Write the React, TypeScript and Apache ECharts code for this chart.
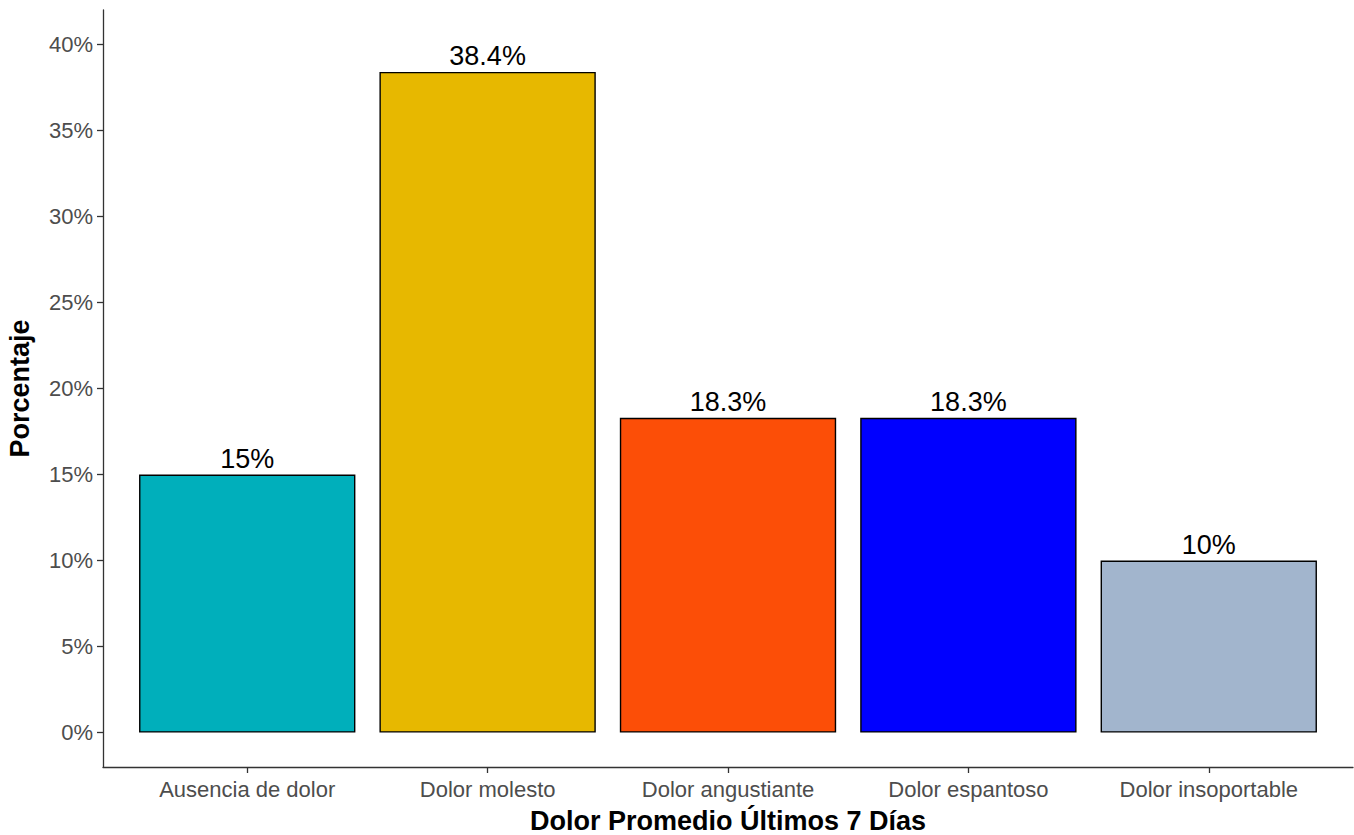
import React, { useEffect, useRef } from "react";
import * as echarts from "echarts";

const categories = ["Ausencia de dolor", "Dolor molesto", "Dolor angustiante", "Dolor espantoso", "Dolor insoportable"];
const values = [15, 38.4, 18.3, 18.3, 10];
const valueLabels = ["15%", "38.4%", "18.3%", "18.3%", "10%"];
const colors = ["#00AFBB", "#E7B800", "#FC4E07", "#0000FF", "#A2B5CD"];
const yTicks = [0, 5, 10, 15, 20, 25, 30, 35, 40];
const xPositions = [1, 2, 3, 4, 5];

export default function App() {
  const ref = useRef<HTMLDivElement>(null);
  useEffect(() => {
    document.body.style.margin = "0";
    const chart = echarts.init(ref.current!, null, { renderer: "svg" });
    const font = "Liberation Sans, Arial, sans-serif";
    chart.setOption({
      animation: false,
      backgroundColor: "#ffffff",
      grid: { left: 103, right: 1, top: 10, bottom: 68, containLabel: false, outerBoundsMode: "none" },
      xAxis: {
        type: "value",
        min: 0.4,
        max: 5.6,
        name: "Dolor Promedio Últimos 7 Días",
        nameLocation: "middle",
        nameGap: 40,
        nameTextStyle: { fontFamily: font, fontSize: 27, fontWeight: "bold", color: "#000" },
        axisLine: { show: true, onZero: false, lineStyle: { color: "#333", width: 1.3 } },
        axisTick: { show: true, length: 6, customValues: xPositions, lineStyle: { color: "#333", width: 1.3 } },
        axisLabel: {
          customValues: xPositions,
          formatter: (v: number) => categories[Math.round(v) - 1] ?? "",
          fontFamily: font,
          fontSize: 22,
          color: "#4D4D4D",
          margin: 11,
        },
        splitLine: { show: false },
      },
      yAxis: {
        type: "value",
        min: -2,
        max: 42,
        name: "Porcentaje",
        nameLocation: "middle",
        nameGap: 70,
        nameTextStyle: { fontFamily: font, fontSize: 27, fontWeight: "bold", color: "#000" },
        axisLine: { show: true, onZero: false, lineStyle: { color: "#333", width: 1.3 } },
        axisTick: { show: true, length: 6, customValues: yTicks, lineStyle: { color: "#333", width: 1.3 } },
        axisLabel: {
          customValues: yTicks,
          formatter: (v: number) => `${v}%`,
          fontFamily: font,
          fontSize: 22,
          color: "#4D4D4D",
          margin: 10,
        },
        splitLine: { show: false },
      },
      series: [
        {
          type: "bar",
          barWidth: "90%",
          data: values.map((v, i) => ({
            value: [xPositions[i], v],
            itemStyle: { color: colors[i], borderColor: "#000", borderWidth: 1.4 },
            label: {
              show: true,
              position: "top",
              distance: 2,
              formatter: valueLabels[i],
              fontFamily: font,
              fontSize: 27,
              color: "#000",
            },
          })),
        },
      ],
    });
    return () => chart.dispose();
  }, []);
  return <div ref={ref} style={{ width: 1354, height: 835 }} />;
}
